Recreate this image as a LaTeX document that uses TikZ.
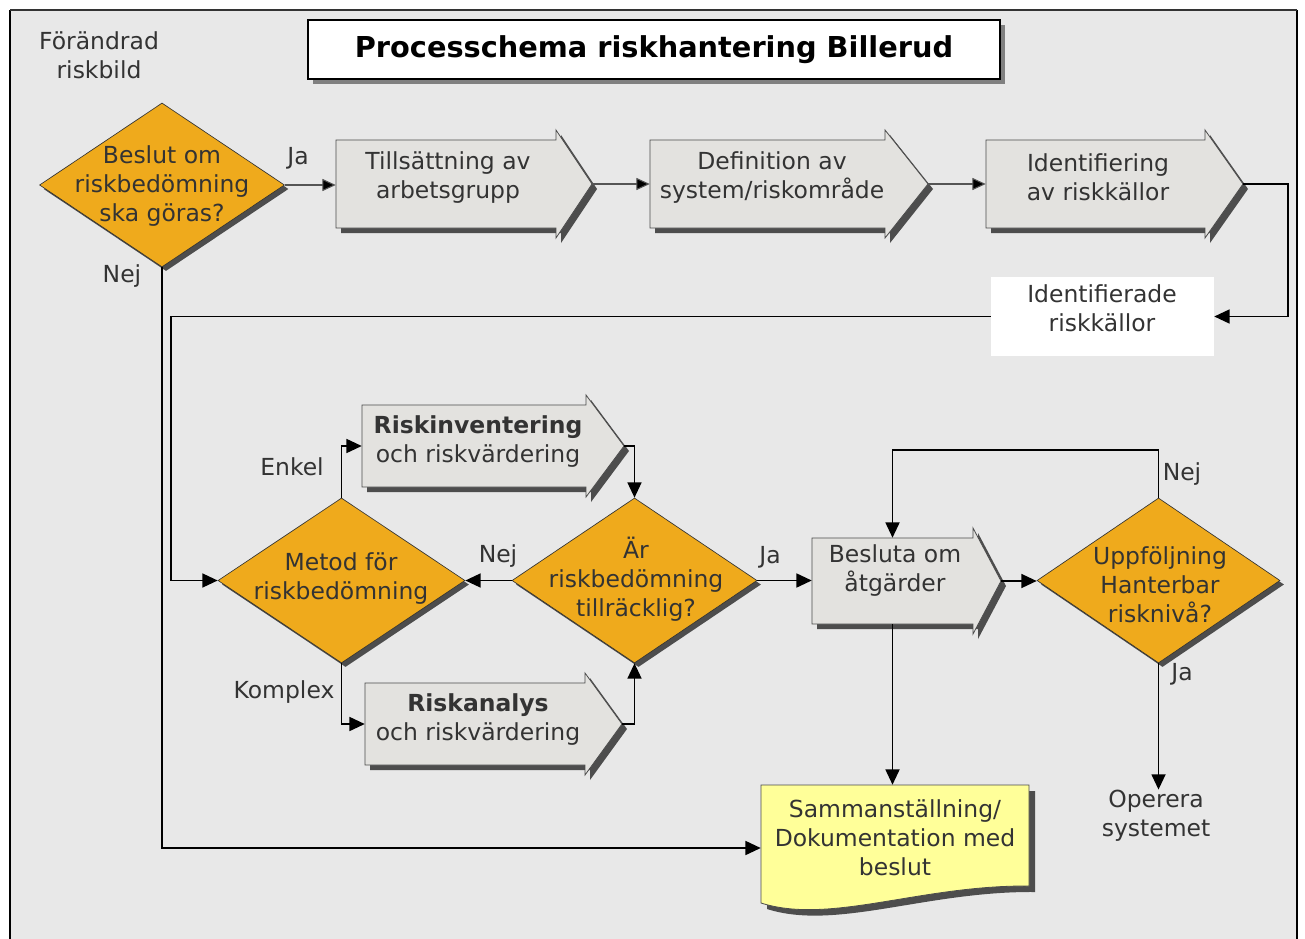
\documentclass[tikz,border=0pt]{standalone}
\usepackage{fontspec}
\setmainfont{DejaVu Sans}
\usetikzlibrary{shapes.geometric,shadows,arrows.meta,calc}
\definecolor{bgc}{HTML}{E8E8E8}
\definecolor{dfill}{HTML}{EFAA1C}
\definecolor{bfill}{HTML}{E3E2DF}
\definecolor{shadowc}{HTML}{4D4D4D}
\definecolor{txtc}{HTML}{333333}
\definecolor{docfill}{HTML}{FFFF99}
\definecolor{tshadow}{HTML}{808080}
\definecolor{thinline}{HTML}{555555}
\tikzset{
  txt/.style={text=txtc, align=center, inner sep=0pt, font=\fontsize{17.6}{21.75}\selectfont},
  dshape/.style={diamond, inner sep=0pt, fill=dfill, draw=black!80, line width=0.5pt,
     general shadow={fill=shadowc, shadow xshift=3pt, shadow yshift=-3pt}},
  boxstyle/.style={fill=bfill, draw=black!70, line width=0.6pt},
  conn/.style={draw=black, line width=1.3pt, -{Triangle[length=11.5pt,width=10.5pt]}},
  thinconn/.style={draw=thinline, line width=0.8pt, -{Triangle[length=10pt,width=9pt,fill=black]}},
  lbl/.style={text=txtc, inner sep=0pt, font=\fontsize{17.6}{21.75}\selectfont},
}
% arrow-shaped process box: #1 name, #2 xl, #3 xr, #4 yt, #5 yb, #6 xtip
\newcommand\arrbox[6]{%
  \pgfmathsetmacro\abym{(#4+#5)/2}%
  \pgfmathsetmacro\abya{#4-10}%
  \pgfmathsetmacro\abyb{#5+10}%
  \pgfmathsetmacro\abw{(#3-#2)*0.75}%
  \pgfmathsetmacro\abh{(#5-#4)*0.75}%
  \pgfmathsetmacro\abxc{(#2+#3)/2}%
  \fill[shadowc,xshift=3.75pt,yshift=-3.75pt] (#2,#4) -- (#3,#4) -- (#3,\abya) -- (#6,\abym) -- (#3,\abyb) -- (#3,#5) -- (#2,#5) -- cycle;
  \filldraw[boxstyle] (#2,#4) -- (#3,#4) -- (#3,\abya) -- (#6,\abym) -- (#3,\abyb) -- (#3,#5) -- (#2,#5) -- cycle;
  \node[minimum width=\abw pt, minimum height=\abh pt, inner sep=0pt] (#1) at (\abxc,\abym) {};
  \coordinate (#1-tip) at (#6,\abym);
}
\begin{document}
\begin{tikzpicture}[x=0.75pt,y=-0.75pt]
\useasboundingbox (0,0) rectangle (1305,938);
\fill[white] (0,0) rectangle (1305,938);
% frame
\fill[bgc] (10,10) rectangle (1297,960);
\draw[black, line width=1.6pt] (10,960) -- (10,10);
\draw[black, line width=2.2pt] (1297,10) -- (1297,960);
\draw[black!80, line width=1.3pt] (10,10) -- (1297,10);

% title
\node[draw=black, line width=1.4pt, fill=white, minimum width=519pt, minimum height=44pt,
  general shadow={fill=tshadow, shadow xshift=3.75pt, shadow yshift=-3.75pt},
  font=\fontsize{21.6}{26}\selectfont\bfseries, text=black] (title) at (654,49.5) {Processchema riskhantering Billerud};

\node[txt] (forand) at (99,55) {Förändrad\\riskbild};

% diamonds
\node[dshape, minimum width=183.75pt, minimum height=123pt] (d1) at (162,185) {};
\node[txt] (d1t) at (162,186) {Beslut om\\riskbedömning\\ska göras?};

\node[dshape, minimum width=185.25pt, minimum height=123.75pt] (metod) at (341.5,580.5) {};
\node[txt] (metodt) at (341,578.5) {Metod för\\riskbedömning};

\node[dshape, minimum width=183.75pt, minimum height=123.75pt] (ar) at (634.5,580.5) {};
\node[txt] (art) at (636,579) {Är\\riskbedömning\\tillräcklig?};

\node[dshape, minimum width=182.25pt, minimum height=123.75pt] (upp) at (1158.5,580.5) {};
\node[txt] (uppt) at (1160,584.5) {Uppföljning\\Hanterbar\\risknivå?};

% arrow boxes
\arrbox{b1}{336}{556}{140}{228}{592}
\node[txt] (b1t) at (448,177.5) {Tillsättning av\\arbetsgrupp};
\arrbox{b2}{650}{885}{140}{228}{928}
\node[txt] (b2t) at (772,177.5) {Definition av\\system/riskområde};
\arrbox{b3}{986}{1205}{140}{228}{1243}
\node[txt] (b3t) at (1098,177.5) {Identifiering\\av riskkällor};

\arrbox{rinv}{362}{586}{405}{487}{624}
\node[txt] (rinvt) at (478,441.5) {\textbf{Riskinventering}\\och riskvärdering};
\arrbox{rana}{365}{585}{683}{765}{622}
\node[txt] (ranat) at (478,720) {\textbf{Riskanalys}\\och riskvärdering};

\arrbox{besl}{812}{973}{538}{624}{1001}
\node[txt] (beslt) at (895,570.5) {Besluta om\\åtgärder};

% identified sources box
\node[fill=white, minimum width=167.25pt, minimum height=59.25pt, inner sep=0pt] (idbox) at (1102.5,316.5) {};
\node[txt] (idboxt) at (1102,308) {Identifierade\\riskkällor};

% document
\fill[shadowc,xshift=4.5pt,yshift=-4.5pt] (761,785) -- (1029,785) -- (1029,886) .. controls (920,885) and (830,925) .. (761,903) -- cycle;
\filldraw[fill=docfill, draw=black!70, line width=0.6pt] (761,785) -- (1029,785) -- (1029,886) .. controls (920,885) and (830,925) .. (761,903) -- cycle;
\node[minimum width=201pt, minimum height=94.5pt, inner sep=0pt] (doc) at (895,848) {};
\node[txt] (doct) at (895,838) {Sammanställning/\\Dokumentation med\\beslut};

\node[txt] (oper) at (1156,815.5) {Operera\\systemet};

% labels
\node[lbl] (lja1) at (298,158) {Ja};
\node[lbl] (lnej1) at (122,276) {Nej};
\node[lbl] (lenkel) at (292,467) {Enkel};
\node[lbl] (lkomplex) at (284,692) {Komplex};
\node[lbl] (lnej2) at (498,556) {Nej};
\node[lbl] (lja2) at (770,557) {Ja};
\node[lbl] (lnej3) at (1182,474) {Nej};
\node[lbl] (lja3) at (1182,674) {Ja};

% connectors
\coordinate (cL) at (171,400);
\coordinate (cR) at (1288,250);
\draw[thinconn] (d1.east) -- (d1.east -| b1.west);
\draw[thinconn] (b1-tip) -- (b2.west);
\draw[thinconn] (b2-tip) -- (b3.west);
\draw[conn] (b3-tip) -| (cR) |- (idbox.east);
\draw[conn] (idbox.west) -| (cL) |- (metod.west);
\draw[conn] (d1.south) |- (doc.west);
\draw[conn] (metod.north) |- (rinv.west);
\draw[conn] (metod.south) |- (rana.west);
\draw[conn] (rinv-tip) -| (ar.north);
\draw[conn] (rana-tip) -| (ar.south);
\draw[conn] (ar.west) -- (metod.east);
\draw[conn] (ar.east) -- (ar.east -| besl.west);
\draw[conn] (besl-tip) -- (besl-tip -| upp.west);
\coordinate (cT) at (1000,450);
\draw[conn] (upp.north) |- (cT) -| (besl.north);
\draw[conn] (upp.south) -- (upp.south |- oper.north);
\draw[conn] (besl.south) -- (besl.south |- doc.north);
\end{tikzpicture}
\end{document}
